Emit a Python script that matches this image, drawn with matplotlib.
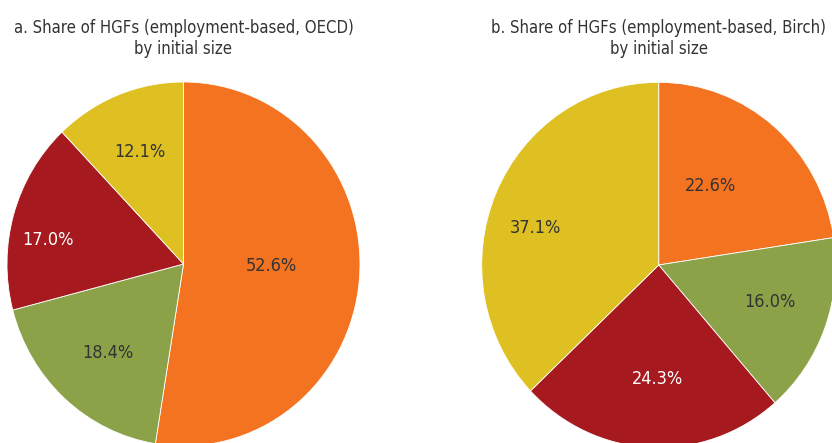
import numpy as np
import matplotlib.pyplot as plt
from matplotlib import font_manager as fm

# slices drawn clockwise from 12 o'clock
shares_oecd = [52.6, 18.4, 17.0, 12.1]
shares_birch = [22.6, 16.0, 24.3, 37.1]
colors = ['#F37321', '#8BA249', '#A6191E', '#DEC022']
text_colors = ['#333333', '#333333', 'white', '#333333']
title_a = 'a. Share of HGFs (employment-based, OECD)\nby initial size'
title_b = 'b. Share of HGFs (employment-based, Birch)\nby initial size'

# label placement: distance from centre (fraction of radius) and angle nudge (deg)
label_r_a = [0.5, 0.653, 0.78, 0.663]
label_da_a = [3.4, 1, 6, 0]
label_r_b = [0.52, 0.661, 0.624, 0.722]
label_da_b = [6.8, 2.4, 2.3, 7]

# look for a narrow font, the original uses a condensed sans
narrow = None
for f in sorted(fm.fontManager.ttflist, key=lambda f: f.fname):
    n = (f.fname + ' ' + f.name).lower()
    if ('narrow' in n or 'condensed' in n) and 'bold' not in n and 'italic' not in n \
            and 'oblique' not in n and 'light' not in n and 'semi' not in n and 'extra' not in n:
        narrow = f.fname
        break
if narrow:
    fp = dict(fontproperties=fm.FontProperties(fname=narrow, size=12))
    fp_lab = dict(fontproperties=fm.FontProperties(fname=narrow, size=13))
else:
    fp = dict(family='DejaVu Sans', fontsize=10.6)
    fp_lab = dict(family='DejaVu Sans', fontsize=11)

W, H = 832, 443
fig = plt.figure(figsize=(W / 100, H / 100), dpi=100)


def draw(vals, label_r, label_da, cx, cy, rx, ry, title):
    ax = fig.add_axes([(cx - rx) / W, (H - cy - ry) / H, 2 * rx / W, 2 * ry / H])
    wedges, _ = ax.pie(vals, colors=colors, startangle=90, counterclock=False,
                       wedgeprops=dict(edgecolor='white', linewidth=0.6))
    ax.set_aspect('auto')
    ax.set_xlim(-1, 1)
    ax.set_ylim(-1, 1)
    for w, v, r, da, tc in zip(wedges, vals, label_r, label_da, text_colors):
        a = np.deg2rad((w.theta1 + w.theta2) / 2 + da)
        ax.text(r * np.cos(a), r * np.sin(a), '%.1f%%' % v, ha='center', va='center',
                color=tc, **fp_lab)
    fig.text(cx / W, 1 - 19 / H, title, ha='center', va='top',
             color='#333333', linespacing=1.25, **fp)


draw(shares_oecd, label_r_a, label_da_a, 183.5, 264, 176.5, 182, title_a)
draw(shares_birch, label_r_b, label_da_b, 658.7, 265, 177, 182.7, title_b)

fig.savefig('out.png', dpi=100)
